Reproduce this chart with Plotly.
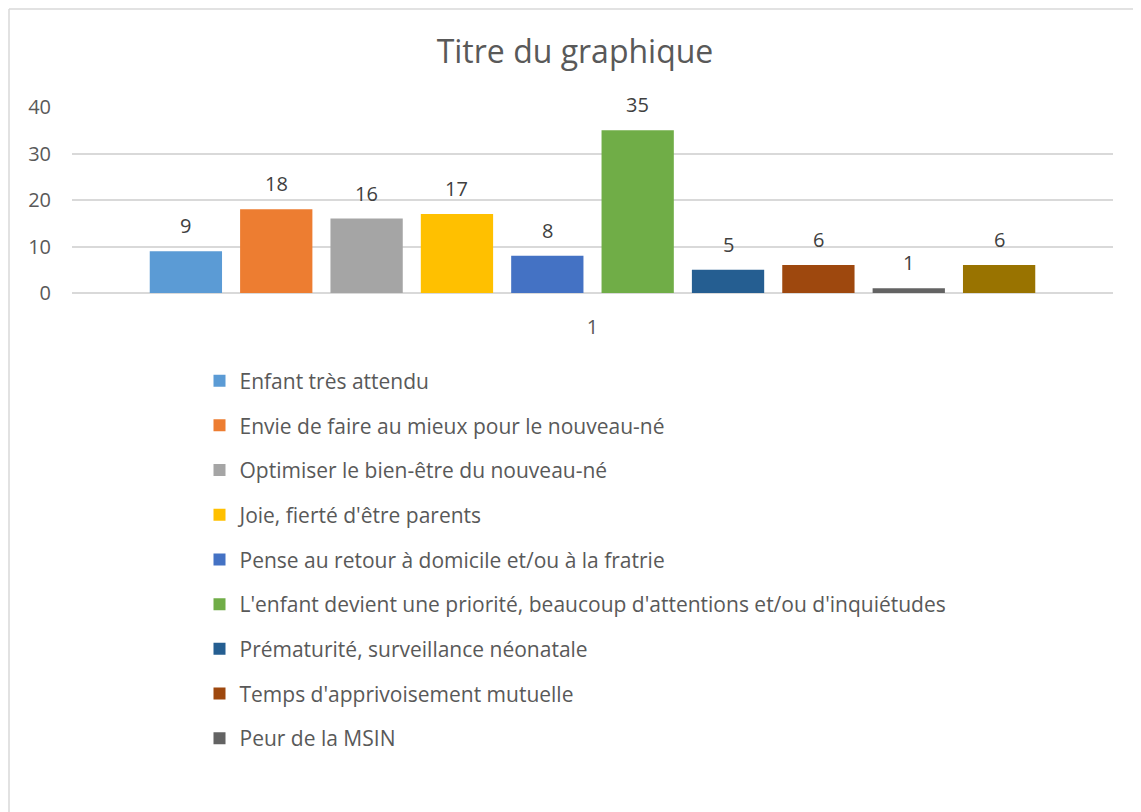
import plotly.graph_objects as go

# categories / series
category = ["1"]
series_names = [
    "Enfant très attendu",
    "Envie de faire au mieux pour le nouveau-né",
    "Optimiser le bien-être du nouveau-né",
    "Joie, fierté d'être parents",
    "Pense au retour à domicile et/ou à la fratrie",
    "L'enfant devient une priorité, beaucoup d'attentions et/ou d'inquiétudes",
    "Prématurité, surveillance néonatale",
    "Temps d'apprivoisement mutuelle",
    "Peur de la MSIN",
    "Série 10",
]
values = [9, 18, 16, 17, 8, 35, 5, 6, 1, 6]
colors = ["#5B9BD5", "#ED7D31", "#A5A5A5", "#FFC000", "#4472C4",
          "#70AD47", "#255E91", "#9E480E", "#636363", "#997300"]
in_legend = [True] * 9 + [False]

FONT = "Open Sans"
W, H = 1133, 804
ML, MR, MT, MB = 64, 28, 99, 519
pw, ph = W - ML - MR, H - MT - MB
BARGAP = 0.132

fig = go.Figure()
for i, (name, v) in enumerate(zip(series_names, values)):
    fig.add_trace(go.Bar(
        x=category, y=[v], name=name,
        marker=dict(color=colors[i], line=dict(width=0)),
        showlegend=in_legend[i],
        legendgroup=f"g{i}",
    ))

# data labels placed over each bar of the group
n = len(values)
slot = (1 - BARGAP) / n
annotations = []
for i, v in enumerate(values):
    annotations.append(dict(
        x=-(1 - BARGAP) / 2 + (i + 0.5) * slot, y=v, xref="x", yref="y",
        text=str(v), showarrow=False, yanchor="bottom", yshift=10,
        font=dict(size=20, color="#404040", family=FONT),
    ))

fig.update_layout(
    width=W, height=H,
    paper_bgcolor="white", plot_bgcolor="white",
    margin=dict(l=ML, r=MR, t=MT, b=MB, autoexpand=False),
    barmode="group", bargap=BARGAP, bargroupgap=0.2,
    title=dict(text="Titre du graphique", x=567 / W, xanchor="center",
               y=1 - 44 / H, yanchor="middle",
               font=dict(size=32, color="#595959", family=FONT)),
    font=dict(family=FONT, color="#595959"),
    legend=dict(x=(191.5 - ML) / pw, xanchor="left",
                y=(ph - 352.5 + MT) / ph, yanchor="top",
                font=dict(size=21, color="#595959", family=FONT),
                tracegroupgap=14.4, itemwidth=30, bgcolor="rgba(0,0,0,0)",
                maxheight=700),
    xaxis=dict(showgrid=False, showline=False, ticks="",
               tickfont=dict(size=20, color="#595959"), ticklabelstandoff=20),
    yaxis=dict(range=[0, 40], dtick=10, showgrid=True, gridcolor="#d9d9d9",
               gridwidth=1.5, zeroline=True, zerolinecolor="#d9d9d9",
               zerolinewidth=1.5, showline=False, ticks="",
               tickfont=dict(size=20, color="#595959"), ticklabelstandoff=20),
    annotations=annotations,
    shapes=[
        dict(type="line", xref="paper", yref="paper",
             x0=(1 - ML) / pw, x1=(1 - ML) / pw, y0=(ph - (H - MT)) / ph,
             y1=(ph + MT - 1) / ph, line=dict(color="#d9d9d9", width=1.5)),
        dict(type="line", xref="paper", yref="paper",
             x0=(1 - ML) / pw, x1=(W - ML) / pw, y0=(ph + MT - 1) / ph,
             y1=(ph + MT - 1) / ph, line=dict(color="#d9d9d9", width=1.5)),
    ],
)

fig.write_html("out.html")
